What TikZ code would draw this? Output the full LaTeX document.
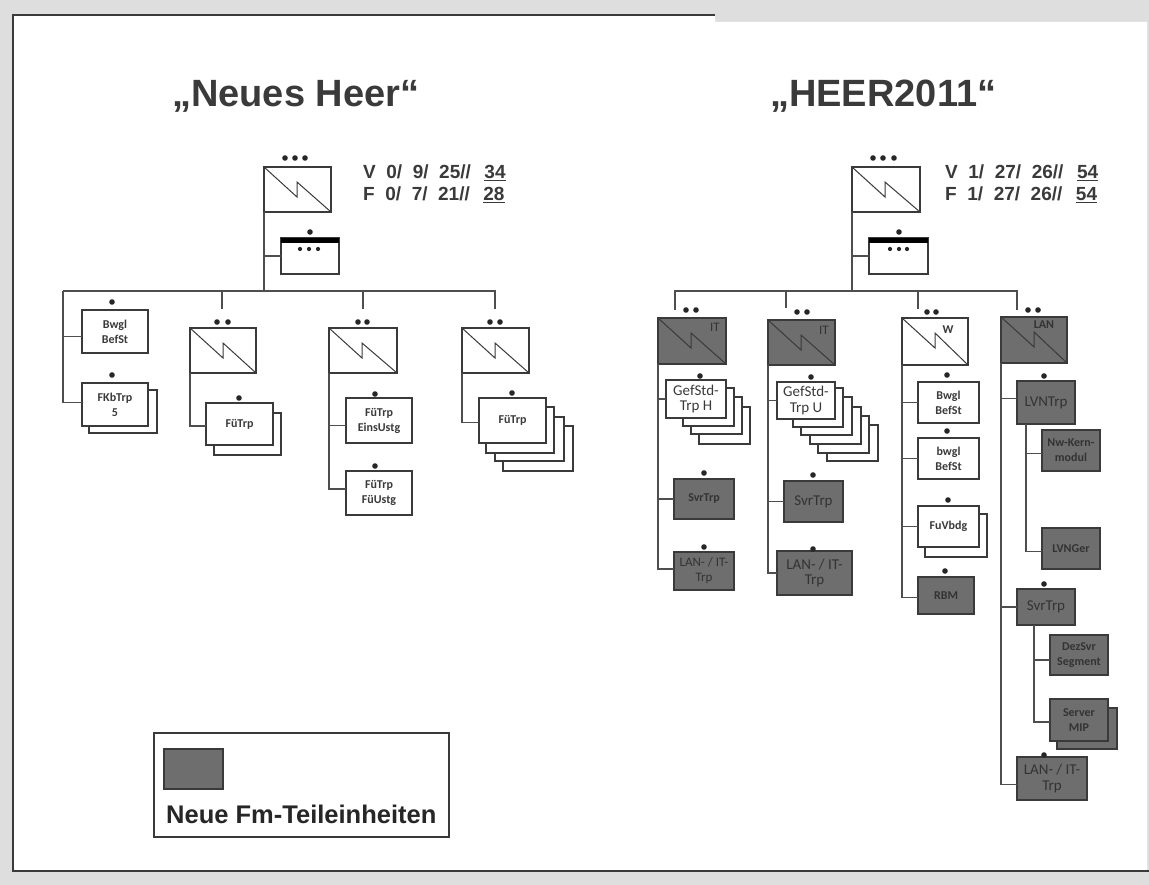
\documentclass[tikz,border=0pt]{standalone}
\usepackage{fontspec}
\setmainfont{Liberation Sans}
\newfontfamily\boxfont{Carlito}
\usetikzlibrary{positioning}
\definecolor{pagegray}{HTML}{DEDEDE}
\definecolor{inkgray}{HTML}{3A3A3A}
\definecolor{unitgray}{HTML}{6E6E6E}
\tikzset{
  wire/.style={draw=inkgray!90!white, line width=1.2pt},
  unit/.style args={#1 by #2}{
    draw=inkgray, line width=1.2pt, fill=white, anchor=north west, inner sep=0pt, outer sep=0pt,
    minimum width=#1, minimum height=#2, align=center, text=inkgray,
    font=\boxfont\bfseries\fontsize{12}{15}\selectfont
  },
  newunit/.style={fill=unitgray, text=black!80},
  biglabel/.style={font=\boxfont\fontsize{15}{15.5}\selectfont},
  signal/.style={
    path picture={
      \draw[inkgray, line width=1pt] (path picture bounding box.north west)
        -- ++(33,30) -- ++(0,-15) -- (path picture bounding box.south east);
    }
  },
  headline/.style={font=\bfseries\fontsize{38}{40}\selectfont, text=inkgray, inner sep=0pt, anchor=base west},
  strength/.style={font=\bfseries\fontsize{19}{20}\selectfont, text=inkgray, inner sep=0pt, anchor=base west}
}

\begin{document}
\begin{tikzpicture}[x=1pt, y=-1pt]
  \useasboundingbox (0,0) rectangle (1149,885);
  \fill[pagegray] (0,0) rectangle (1149,885);
  \fill[white] (13,15) -- (715,15) -- (715,22) -- (1147,22) -- (1147,871) -- (13,871) -- cycle;
  \draw[inkgray, line width=2pt] (715,15) -- (13,15) -- (13,871) -- (1149,871);

  % Titles and strength figures
  \node[headline] (titleneu) at (172,107) {„Neues Heer“};
  \node[headline] (titleheer) at (770,107) {„HEER2011“};
  \node[strength] (vneu) at (363,179) {V\ \ 0/\ \ 9/\ \ 25//\ \ \hspace{3pt}\underline{34}};
  \node[strength] (fneu) at (363,201) {F\ \ 0/\ \ 7/\ \ 21//\ \ \hspace{3pt}\underline{28}};
  \node[strength] (vheer) at (945,179) {V\ \ 1/\ \ 27/\ \ 26//\ \ \hspace{3pt}\underline{54}};
  \node[strength] (fheer) at (945,201) {F\ \ 1/\ \ 27/\ \ 26//\ \ \hspace{3pt}\underline{54}};

  % Stacked sheets behind the units
  \foreach \l/\t/\r/\b in {89/390/157/433, 214/413/281/455, 503/426/573/471, 495/417/564/461, 486/407/554/453,
      699/407/750/444, 691/397/742/434, 683/388/734/426,
      827/425/878/461, 818/416/869/453, 810/407/861/444, 801/397/852/435, 793/388/843/427,
      925/514/987/557}
    \draw[inkgray, line width=1.2pt, fill=white] (\l,\t) rectangle (\r,\b);
  \draw[inkgray, line width=1.2pt, fill=unitgray] (1057,708) rectangle (1117,749);

  % Neues Heer
  \node[unit=67 by 45, signal] (cmdl) at (264,167) {};
  \node[unit=58 by 36] (staffl) at (281,238) {};
  \fill[black] (staffl.north west) rectangle (339,243);
  \node[unit=66 by 43] (bwgla) at (82,310) {Bwgl\\BefSt};
  \node[unit=66 by 43] (fkb) at (82,383) {FKbTrp\\5};
  \node[unit=66 by 45, signal] (coa) at (190,328) {};
  \node[unit=67 by 42] (fuea) at (206,403) {FüTrp};
  \node[unit=68 by 45, signal] (cob) at (329,328) {};
  \node[unit=66 by 45] (fueb) at (346,398) {FüTrp\\EinsUstg};
  \node[unit=66 by 44] (fuec) at (346,471) {FüTrp\\FüUstg};
  \node[unit=67 by 45, signal] (coc) at (462,328) {};
  \node[unit=67 by 45] (fued) at (479,398) {FüTrp};

  \coordinate (barlw) at (63,291);
  \coordinate (barle) at (495,291);
  \coordinate (barlm) at (264,291);
  \coordinate (dropa) at (222,309);
  \coordinate (dropb) at (363,309);
  \coordinate (dropc) at (495,309);
  \draw[wire] (barlw) -- (barle) -- (dropc);
  \draw[wire] (cmdl.south west) -- (barlm);
  \draw[wire] (cmdl.south west) |- (staffl.west);
  \draw[wire] (dropa |- barlm) -- (dropa);
  \draw[wire] (dropb |- barlm) -- (dropb);
  \draw[wire] (barlw) |- ([yshift=-5]bwgla.west);
  \draw[wire] (barlw) |- ([yshift=2]fkb.west);
  \draw[wire] (coa.south west) |- ([yshift=-2]fuea.west);
  \draw[wire] (cob.south west) |- ([yshift=-5]fueb.west);
  \draw[wire] (cob.south west) |- ([yshift=4]fuec.west);
  \draw[wire] (coc.south west) |- ([yshift=-2]fued.west);

  % HEER2011
  \node[unit=68 by 45, signal] (cmdr) at (852,167) {};
  \node[unit=59 by 36] (staffr) at (869,238) {};
  \fill[black] (staffr.north west) rectangle (928,243);
  \node[unit=68 by 46, signal, newunit] (itaa) at (658,318) {};
  \node[text=black!80, font=\boxfont\fontsize{13}{13}\selectfont] (itaalabel) at (715,327) {IT};
  \node[unit=60 by 38, biglabel] (gefh) at (666,380) {GefStd-\\Trp H};
  \node[unit=60 by 40, newunit] (svra) at (674,479) {SvrTrp};
  \node[unit=60 by 38, newunit, font=\boxfont\fontsize{13}{15}\selectfont] (lana) at (674,552) {LAN- / IT-\\Trp};

  \node[unit=67 by 45, signal, newunit] (itab) at (768,320) {};
  \node[text=black!80, font=\boxfont\fontsize{13}{13}\selectfont] (itablabel) at (824,330) {IT};
  \node[unit=58 by 37, biglabel] (gefu) at (777,382) {GefStd-\\Trp U};
  \node[unit=59 by 41, newunit, biglabel] (svrb) at (784,481) {SvrTrp};
  \node[unit=75 by 44, newunit, biglabel] (lanb) at (777,551) {LAN- / IT-\\Trp};

  \node[unit=66 by 47, signal] (wpn) at (902,318) {};
  \node[text=inkgray, font=\boxfont\bfseries\fontsize{12}{12}\selectfont] (wpnlabel) at (948,330) {W};
  \node[unit=61 by 41] (bwglb) at (918,382) {Bwgl\\BefSt};
  \node[unit=61 by 41] (bwglc) at (918,438) {bwgl\\BefSt};
  \node[unit=61 by 41] (fuv) at (918,506) {FuVbdg};
  \node[unit=56 by 37, newunit] (rbm) at (918,577) {RBM};

  \node[unit=66 by 46, signal, newunit] (lanco) at (1001,317) {};
  \node[text=black!80, font=\boxfont\bfseries\fontsize{12}{12}\selectfont] (lancolabel) at (1044,325) {LAN};
  \node[unit=58 by 43, newunit, biglabel] (lvn) at (1017,381) {LVNTrp};
  \node[unit=58 by 41, newunit] (nwk) at (1042,430) {Nw-Kern-\\modul};
  \node[unit=58 by 41, newunit] (lvng) at (1042,528) {LVNGer};
  \node[unit=58 by 36, newunit, biglabel] (svrc) at (1017,589) {SvrTrp};
  \node[unit=58 by 40, newunit] (dez) at (1050,635) {DezSvr\\Segment};
  \node[unit=58 by 42, newunit] (srv) at (1050,699) {Server\\MIP};
  \node[unit=70 by 43, newunit, biglabel] (lanc) at (1017,757) {LAN- / IT-\\Trp};

  \coordinate (barrw) at (675,291);
  \coordinate (barre) at (1017,291);
  \coordinate (barrm) at (852,291);
  \coordinate (dropd) at (675,310);
  \coordinate (drope) at (786,308);
  \coordinate (dropf) at (918,309);
  \coordinate (dropg) at (1017,310);
  \coordinate (subnw) at (1026,424);
  \coordinate (subsv) at (1034,625);
  \draw[wire] (dropd) -- (barrw) -- (barre) -- (dropg);
  \draw[wire] (cmdr.south west) -- (barrm);
  \draw[wire] (cmdr.south west) |- (staffr.west);
  \draw[wire] (drope |- barrm) -- (drope);
  \draw[wire] (dropf |- barrm) -- (dropf);
  \draw[wire] (itaa.south west) |- (gefh.west);
  \draw[wire] (itaa.south west) |- (svra.west);
  \draw[wire] (itaa.south west) |- ([yshift=2]lana.west);
  \draw[wire] (itab.south west) |- (gefu.west);
  \draw[wire] (itab.south west) |- (svrb.west);
  \draw[wire] (itab.south west) |- (lanb.west);
  \draw[wire] (wpn.south west) |- (bwglb.west);
  \draw[wire] (wpn.south west) |- (bwglc.west);
  \draw[wire] (wpn.south west) |- (fuv.west);
  \draw[wire] (wpn.south west) |- ([yshift=-2]rbm.west);
  \draw[wire] (lanco.south west) |- ([yshift=4]lvn.west);
  \draw[wire] (lanco.south west) |- (svrc.west);
  \draw[wire] (lanco.south west) |- ([yshift=-6]lanc.west);
  \draw[wire] (subnw) |- ([yshift=-3]nwk.west);
  \draw[wire] (subnw) |- ([yshift=-3]lvng.west);
  \draw[wire] (subsv) |- ([yshift=-5]dez.west);
  \draw[wire] (subsv) |- ([yshift=-2]srv.west);

  % Legend
  \node[unit=295 by 104] (legend) at (154,733) {};
  \node[unit=59 by 40, newunit] (swatch) at (164,749) {};
  \node[font=\bfseries\fontsize{25.5}{27}\selectfont, text=black!85, inner sep=0pt, anchor=base west] (legendtext) at (166,823) {Neue Fm-Teileinheiten};

  % Rank dots
  \foreach \x/\y in {285/158,295/158,305/158,310/232,112/302,112/375,
      217/322,228/322,239/398,358/322,367/322,375/394,375/466,490/322,500/322,512/393,
      873/158,883/158,894/158,899/232,686/310,696/310,700/376,704/473,704/547,
      797/312,807/312,811/377,813/475,813/549,927/312,936/312,947/375,947/431,948/500,945/571,
      1028/310,1038/310,1044/376,1044/584,1044/755}
    \fill[black!85] (\x,\y) circle (2.8);
  \foreach \x in {300,309,318,890,899,907}
    \fill[black!85] (\x,249) circle (2.1);
\end{tikzpicture}
\end{document}
